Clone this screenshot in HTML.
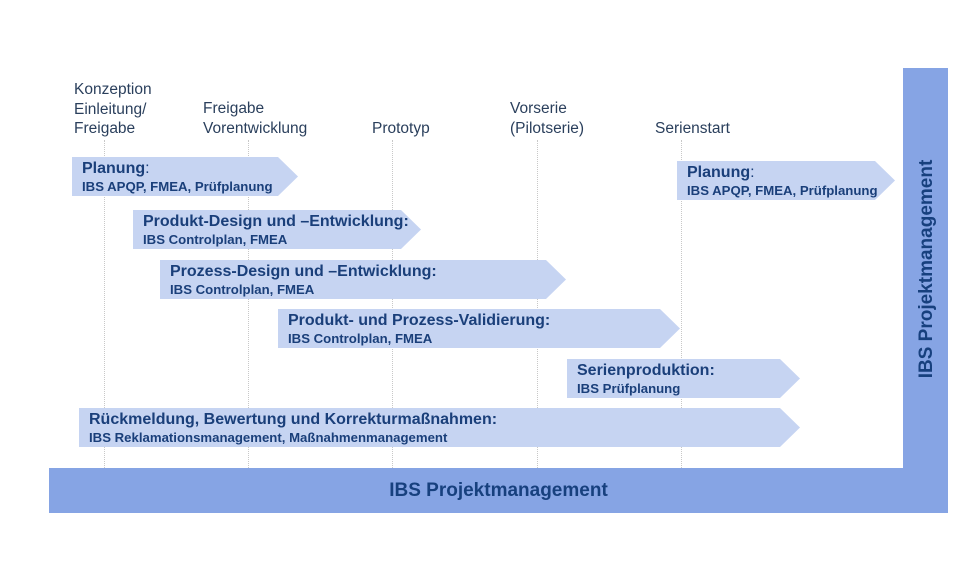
<!DOCTYPE html>
<html><head><style>
body{margin:0;background:#fff;width:960px;height:572px;position:relative;overflow:hidden;font-family:"Liberation Sans",Arial,sans-serif}
.lbl{position:absolute;font-size:15.5px;color:#2a3f5c;line-height:19.5px}
.vl{position:absolute;top:140px;height:328px;width:0;border-left:1px dotted #c8c8c8}
.ar{position:absolute;background:#c6d4f2;clip-path:polygon(0 0,calc(100% - 20px) 0,100% 50%,calc(100% - 20px) 100%,0 100%)}
.ar b{display:block;position:absolute;left:10px;top:3px;font-size:16px;color:#1a3f7a;white-space:nowrap}
.ar i{display:block;position:absolute;left:10px;top:22px;font-size:13.2px;font-style:normal;font-weight:bold;color:#1a3f7a;white-space:nowrap}
</style></head><body>
<div class="lbl" style="left:74px;top:80px">Konzeption<br>Einleitung/<br>Freigabe</div>
<div class="lbl" style="left:203px;top:99px">Freigabe<br>Vorentwicklung</div>
<div class="lbl" style="left:372px;top:119px">Prototyp</div>
<div class="lbl" style="left:510px;top:99px">Vorserie<br>(Pilotserie)</div>
<div class="lbl" style="left:655px;top:119px">Serienstart</div>
<div class="vl" style="left:104px"></div>
<div class="vl" style="left:248px"></div>
<div class="vl" style="left:392px"></div>
<div class="vl" style="left:537px"></div>
<div class="vl" style="left:681px"></div>
<div class="ar" style="left:72px;top:157px;width:226px;height:39px"><b>Planung<span style="font-weight:normal">:</span></b><i>IBS APQP, FMEA, Prüfplanung</i></div>
<div class="ar" style="left:133px;top:210px;width:288px;height:39px"><b>Produkt-Design und –Entwicklung:</b><i>IBS Controlplan, FMEA</i></div>
<div class="ar" style="left:160px;top:260px;width:406px;height:39px"><b>Prozess-Design und –Entwicklung:</b><i>IBS Controlplan, FMEA</i></div>
<div class="ar" style="left:278px;top:309px;width:402px;height:39px"><b>Produkt- und Prozess-Validierung:</b><i>IBS Controlplan, FMEA</i></div>
<div class="ar" style="left:567px;top:359px;width:233px;height:39px"><b>Serienproduktion:</b><i>IBS Prüfplanung</i></div>
<div class="ar" style="left:79px;top:408px;width:721px;height:39px"><b>Rückmeldung, Bewertung und Korrekturmaßnahmen:</b><i>IBS Reklamationsmanagement, Maßnahmenmanagement</i></div>
<div class="ar" style="left:677px;top:161px;width:218px;height:39px"><b>Planung<span style="font-weight:normal">:</span></b><i>IBS APQP, FMEA, Prüfplanung</i></div>
<div style="position:absolute;left:903px;top:68px;width:45px;height:400px;background:#86a4e4"></div>
<div style="position:absolute;left:49px;top:468px;width:899px;height:45px;background:#86a4e4;text-align:center;line-height:45px;font-weight:bold;font-size:19px;color:#17407e">IBS Projektmanagement</div>
<div style="position:absolute;left:927px;top:269px;transform:translate(-50%,-50%) rotate(-90deg);font-weight:bold;font-size:19px;color:#17407e;white-space:nowrap">IBS Projektmanagement</div>
</body></html>
